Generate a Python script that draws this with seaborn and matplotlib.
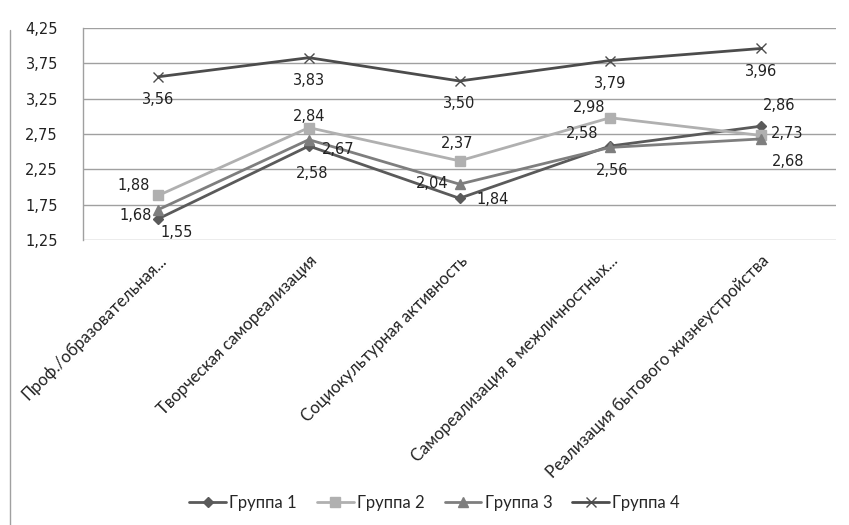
import matplotlib
matplotlib.use("Agg")
import matplotlib.pyplot as plt
import seaborn as sns
import pandas as pd
from matplotlib.lines import Line2D

categories = [
    "Проф./образовательная...",
    "Творческая самореализация",
    "Социокультурная активность",
    "Самореализация в межличностных...",
    "Реализация бытового жизнеустройства",
]
groups = ["Группа 1", "Группа 2", "Группа 3", "Группа 4"]
group1 = [1.55, 2.58, 1.84, 2.58, 2.86]
group2 = [1.88, 2.84, 2.37, 2.98, 2.73]
group3 = [1.68, 2.67, 2.04, 2.56, 2.68]
group4 = [3.56, 3.83, 3.50, 3.79, 3.96]
y_ticks = [1.25, 1.75, 2.25, 2.75, 3.25, 3.75, 4.25]

series = [group1, group2, group3, group4]
colors = ["#5a5a5a", "#b0b0b0", "#7e7e7e", "#4c4c4c"]
markers = ["D", "s", "^", "x"]
msizes = [5, 7, 7, 7]

# value-label offsets in pixels (dx, dy) per group / category
label_offsets = [
    [(18, -14), (3, -27), (33, -1), (-28, 13), (18, 21)],
    [(-25, 10), (0, 11), (-2, 17), (-21, 10), (26, 2)],
    [(-23, -6), (29, -10), (-27, 1), (2, -23), (27, -23)],
    [(0, -23), (0, -23), (0, -23), (0, -23), (0, -23)],
]

sns.set_style("white")
plt.rcParams["font.family"] = ["DejaVu Sans"]

fig = plt.figure(figsize=(8.49, 5.25), dpi=100)
ax = fig.add_axes([83 / 849, 1 - 240 / 525, (836 - 83) / 849, (240 - 28) / 525])

for g, vals, c, m, ms in zip(groups, series, colors, markers, msizes):
    d = pd.DataFrame({"pos": range(len(vals)), "value": vals})
    sns.lineplot(data=d, x="pos", y="value", color=c, marker=m, markersize=ms,
                 markeredgecolor=c, markerfacecolor=c, markeredgewidth=1.0,
                 linewidth=2.0, ax=ax, label=g, legend=False)

for vals, offs in zip(series, label_offsets):
    for i, (v, (dx, dy)) in enumerate(zip(vals, offs)):
        ax.annotate(f"{v:.2f}".replace(".", ","), (i, v), xytext=(dx, dy),
                    textcoords="offset pixels", ha="center", va="center",
                    fontsize=10.5, color="#222222")

ax.set_xlim(-0.5, 4.5)
ax.set_ylim(1.25, 4.25)
ax.set_yticks(y_ticks)
ax.set_yticklabels([f"{t:.2f}".replace(".", ",") for t in y_ticks], fontsize=10.5, color="#222222")
ax.tick_params(axis="y", length=0, pad=18)
ax.set_xticks(range(len(categories)))
ax.set_xticklabels(categories, rotation=45, ha="right", rotation_mode="anchor",
                   fontsize=12, family=["Lato", "DejaVu Sans"], color="#222222")
ax.tick_params(axis="x", length=0, pad=9)
ax.set_xlabel("")
ax.set_ylabel("")
ax.grid(axis="y", color="#a0a0a0", linewidth=1.0)
for side in ["top", "right", "bottom"]:
    ax.spines[side].set_visible(False)
ax.spines["left"].set_color("#a0a0a0")
ax.spines["left"].set_linewidth(1.0)

handles = [Line2D([0], [0], color=c, marker=m, markersize=ms, linewidth=2.0,
                  markerfacecolor=c, markeredgecolor=c)
           for c, m, ms in zip(colors, markers, msizes)]
fig.legend(handles, groups, loc="center", bbox_to_anchor=(0.512, 1 - 503 / 525),
           ncol=4, frameon=False, prop={"family": ["Lato", "DejaVu Sans"], "size": 12},
           handlelength=2.2, handletextpad=0.2, columnspacing=1.2)

fig.add_artist(Line2D([10 / 849, 10 / 849], [0, 1 - 30 / 525], color="#a0a0a0", linewidth=1.0))

fig.savefig("out.png", dpi=100)
